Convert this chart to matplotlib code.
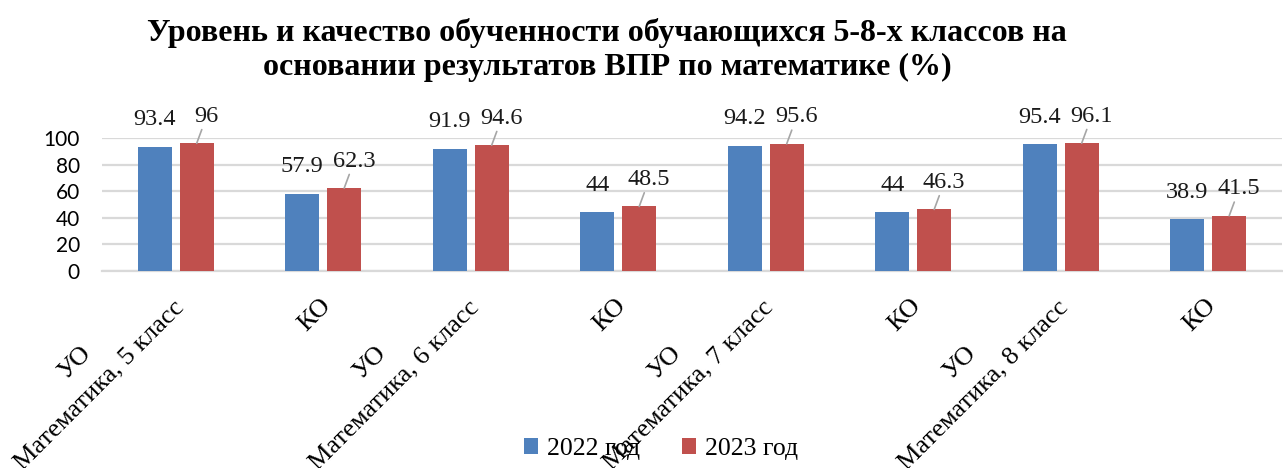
import matplotlib
matplotlib.use('Agg')
import matplotlib.pyplot as plt
import matplotlib.transforms as mtransforms
import numpy as np

plt.rcParams['font.family'] = 'Liberation Serif'

# data
leaf_labels = ['УО', 'КО', 'УО', 'КО', 'УО', 'КО', 'УО', 'КО']
group_labels = ['Математика, 5 класс', 'Математика, 6 класс',
                'Математика, 7 класс', 'Математика, 8 класс']
y2022 = [93.4, 57.9, 91.9, 44, 94.2, 44, 95.4, 38.9]
y2023 = [96, 62.3, 94.6, 48.5, 95.6, 46.3, 96.1, 41.5]
series_names = ['2022 год', '2023 год']
yticks = [0, 20, 40, 60, 80, 100]

c_blue = '#4F81BD'
c_red = '#C0504D'

W, H = 1283, 468
fig = plt.figure(figsize=(W / 100, H / 100), dpi=100)
ax = fig.add_axes([102 / W, (H - 271) / H, 1180 / W, 133 / H])

x = np.arange(len(leaf_labels))
bw = 0.23
off = 0.142
b1 = ax.bar(x - off, y2022, bw, color=c_blue, label=series_names[0], zorder=3)
b2 = ax.bar(x + off, y2023, bw, color=c_red, label=series_names[1], zorder=3)

ax.set_xlim(-0.5, 7.5)
ax.set_ylim(0, 100)
ax.set_yticks(yticks)
ax.set_yticklabels([str(t) for t in yticks], family='Lato', fontsize=15)
ax.tick_params(axis='y', length=0, pad=16)
ax.set_xticks([])
ax.grid(axis='y', color='#D9D9D9', lw=1.6, zorder=0)
for s in ['top', 'right', 'left']:
    ax.spines[s].set_visible(False)
ax.spines['bottom'].set_color('#D9D9D9')
ax.spines['bottom'].set_linewidth(1.6)

def fmt(v):
    return ('%g' % v)

px = 0.72  # points per pixel at dpi 100
for xi, v in zip(x - off, y2022):
    ax.annotate(fmt(v), (xi, v), xytext=(0, 27 * px), textcoords='offset points',
                ha='center', va='center', fontsize=17.5, color='#1a1a1a',
                annotation_clip=False)
for xi, v in zip(x + off, y2023):
    ax.annotate(fmt(v), (xi, v), xytext=(10 * px, 27 * px), textcoords='offset points',
                ha='center', va='center', fontsize=17.5, color='#1a1a1a',
                annotation_clip=False,
                arrowprops=dict(arrowstyle='-', color='#A6A6A6', lw=1.2,
                                shrinkA=0, shrinkB=0))

# category labels (two levels, rotated)
tr = mtransforms.blended_transform_factory(ax.transData, fig.transFigure)
step = 1180 / 8
for i, lab in enumerate(leaf_labels):
    if lab == 'КО':
        fig.text(i + 12 / step, (H - 294) / H, lab, transform=tr, rotation=45,
                 ha='right', va='top', fontsize=19)
    else:
        fig.text(i - 80 / step, (H - 342) / H, lab, transform=tr, rotation=45,
                 ha='right', va='top', fontsize=19)
for j, lab in enumerate(group_labels):
    fig.text(2 * j + 12 / step, (H - 296) / H, lab, transform=tr, rotation=45,
             ha='right', va='top', fontsize=19)

fig.text(607 / W, 1 - 50 / H,
         'Уровень и качество обученности обучающихся 5-8-х классов на\n'
         'основании результатов ВПР по математике (%)',
         ha='center', va='center', fontsize=23, fontweight='bold',
         linespacing=1.22)

fig.legend(handles=[b1, b2], labels=series_names, loc='center',
           bbox_to_anchor=(661 / W, 1 - 449 / H), ncol=2, frameon=False,
           fontsize=18.5, handlelength=0.55, handleheight=0.55,
           columnspacing=1.6, handletextpad=0.35)

fig.savefig('out.png', dpi=100)
